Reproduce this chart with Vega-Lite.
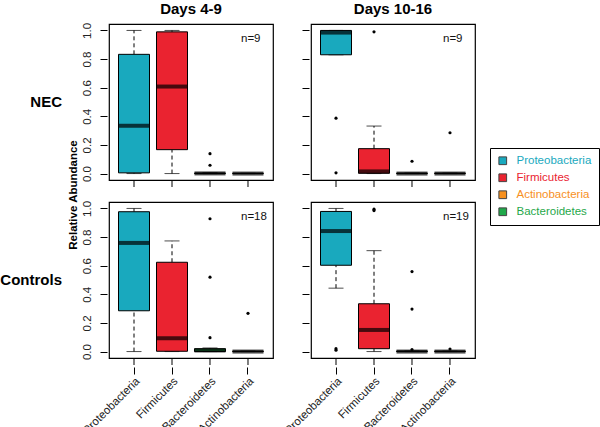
{
  "$schema": "https://vega.github.io/schema/vega-lite/v6.json",
  "background": "white",
  "padding": {"left": 0, "top": 2, "right": 2, "bottom": 0},
  "config": {
    "font": "Liberation Sans",
    "view": {"stroke": "black", "strokeWidth": 1.2},
    "axis": {"grid": false, "domain": false, "tickColor": "black", "tickSize": 7, "labelColor": "#222", "labelFont": "Liberation Sans"},
    "axisY": {"tickCount": 6, "labelOverlap": false, "labelAngle": -90, "labelPadding": 8, "labelFontSize": 11.5, "format": ".1f", "offset": 1},
    "concat": {"spacing": 8}
  },
  "datasets": {"all": [
    {"group": "NEC", "days": "Days 4-9", "taxon": "Proteobacteria", "lo": 0, "q1": 0.005, "med": 0.334, "q3": 0.833, "hi": 1.0},
    {"group": "NEC", "days": "Days 4-9", "taxon": "Firmicutes", "lo": 0, "q1": 0.167, "med": 0.608, "q3": 0.99, "hi": 1.0},
    {"group": "NEC", "days": "Days 4-9", "taxon": "Bacteroidetes", "lo": 0, "q1": 0, "med": 0.001, "q3": 0.004, "hi": 0.005},
    {"group": "NEC", "days": "Days 4-9", "taxon": "Actinobacteria", "lo": 0, "q1": 0, "med": 0, "q3": 0.002, "hi": 0.002},
    {"group": "NEC", "days": "Days 4-9", "taxon": "Bacteroidetes", "out": 0.139},
    {"group": "NEC", "days": "Days 4-9", "taxon": "Bacteroidetes", "out": 0.058},
    {"group": "NEC", "days": "Days 10-16", "taxon": "Proteobacteria", "lo": 0.83, "q1": 0.83, "med": 0.985, "q3": 1.0, "hi": 1.0},
    {"group": "NEC", "days": "Days 10-16", "taxon": "Firmicutes", "lo": 0, "q1": 0.002, "med": 0.015, "q3": 0.174, "hi": 0.332},
    {"group": "NEC", "days": "Days 10-16", "taxon": "Bacteroidetes", "lo": 0, "q1": 0, "med": 0, "q3": 0.003, "hi": 0.003},
    {"group": "NEC", "days": "Days 10-16", "taxon": "Actinobacteria", "lo": 0, "q1": 0, "med": 0, "q3": 0.003, "hi": 0.003},
    {"group": "NEC", "days": "Days 10-16", "taxon": "Proteobacteria", "out": 0.387},
    {"group": "NEC", "days": "Days 10-16", "taxon": "Proteobacteria", "out": 0.005},
    {"group": "NEC", "days": "Days 10-16", "taxon": "Firmicutes", "out": 0.99},
    {"group": "NEC", "days": "Days 10-16", "taxon": "Bacteroidetes", "out": 0.086},
    {"group": "NEC", "days": "Days 10-16", "taxon": "Actinobacteria", "out": 0.285},
    {"group": "Controls", "days": "Days 4-9", "taxon": "Proteobacteria", "lo": 0, "q1": 0.285, "med": 0.759, "q3": 0.977, "hi": 1.0},
    {"group": "Controls", "days": "Days 4-9", "taxon": "Firmicutes", "lo": 0, "q1": 0.002, "med": 0.093, "q3": 0.624, "hi": 0.773},
    {"group": "Controls", "days": "Days 4-9", "taxon": "Bacteroidetes", "lo": 0, "q1": 0, "med": 0.008, "q3": 0.02, "hi": 0.025},
    {"group": "Controls", "days": "Days 4-9", "taxon": "Actinobacteria", "lo": 0, "q1": 0, "med": 0, "q3": 0.003, "hi": 0.003},
    {"group": "Controls", "days": "Days 4-9", "taxon": "Bacteroidetes", "out": 0.928},
    {"group": "Controls", "days": "Days 4-9", "taxon": "Bacteroidetes", "out": 0.52},
    {"group": "Controls", "days": "Days 4-9", "taxon": "Bacteroidetes", "out": 0.097},
    {"group": "Controls", "days": "Days 4-9", "taxon": "Actinobacteria", "out": 0.267},
    {"group": "Controls", "days": "Days 10-16", "taxon": "Proteobacteria", "lo": 0.443, "q1": 0.603, "med": 0.842, "q3": 0.979, "hi": 1.0},
    {"group": "Controls", "days": "Days 10-16", "taxon": "Firmicutes", "lo": 0, "q1": 0.02, "med": 0.151, "q3": 0.334, "hi": 0.705},
    {"group": "Controls", "days": "Days 10-16", "taxon": "Bacteroidetes", "lo": 0, "q1": 0, "med": 0, "q3": 0.004, "hi": 0.004},
    {"group": "Controls", "days": "Days 10-16", "taxon": "Actinobacteria", "lo": 0, "q1": 0, "med": 0, "q3": 0.003, "hi": 0.003},
    {"group": "Controls", "days": "Days 10-16", "taxon": "Proteobacteria", "out": 0.02},
    {"group": "Controls", "days": "Days 10-16", "taxon": "Proteobacteria", "out": 0.01},
    {"group": "Controls", "days": "Days 10-16", "taxon": "Firmicutes", "out": 0.995},
    {"group": "Controls", "days": "Days 10-16", "taxon": "Firmicutes", "out": 0.985},
    {"group": "Controls", "days": "Days 10-16", "taxon": "Bacteroidetes", "out": 0.559},
    {"group": "Controls", "days": "Days 10-16", "taxon": "Bacteroidetes", "out": 0.297},
    {"group": "Controls", "days": "Days 10-16", "taxon": "Bacteroidetes", "out": 0.014},
    {"group": "Controls", "days": "Days 10-16", "taxon": "Actinobacteria", "out": 0.018},
    {"group": "NEC", "days": "Days 4-9", "n": "n=9"},
    {"group": "NEC", "days": "Days 10-16", "n": "n=9"},
    {"group": "Controls", "days": "Days 4-9", "n": "n=18"},
    {"group": "Controls", "days": "Days 10-16", "n": "n=19"}
  ]},
  "hconcat": [
    {
      "data": {"name": "all"},
      "transform": [{"filter": "datum.days == 'Days 4-9'"}],
      "facet": {
        "row": {"field": "group", "type": "nominal", "sort": ["NEC", "Controls"], "title": "Relative Abundance",
          "header": {"labelAngle": 0, "labelOrient": "left", "labelAlign": "left", "labelFontWeight": "bold", "labelFontSize": 15, "labelColor": "black", "labelPadding": 19,
            "titleOrient": "left", "titleFontWeight": "bold", "titleFontSize": 11.5, "titleColor": "black", "titlePadding": -89, "titleFont": "Liberation Sans"}},
        "column": {"field": "days", "type": "nominal", "title": null,
          "header": {"labelFontWeight": "bold", "labelFontSize": 15, "labelColor": "black", "labelPadding": 6}}
      },
      "spacing": {"row": 12},
      "spec": {
        "width": 164,
        "height": 156,
        "encoding": {
          "x": {"field": "taxon", "type": "nominal",
            "scale": {"domain": ["Proteobacteria", "Firmicutes", "Bacteroidetes", "Actinobacteria"], "paddingInner": 0, "paddingOuter": 0.158},
            "axis": {"title": null, "labelAngle": -45, "labelFontSize": 11.5, "labelPadding": 1, "tickSize": 7}}
        },
        "layer": [
          {"transform": [{"filter": "isValid(datum.med)"}],
           "mark": {"type": "rule", "color": "black", "strokeWidth": 1, "yOffset": 1, "y2Offset": 7},
           "encoding": {"y": {"datum": -0.045, "type": "quantitative",
              "scale": {"domain": [-0.045, 1.045], "nice": false, "zero": false},
              "axis": {"title": null, "values": [0, 0.2, 0.4, 0.6, 0.8, 1.0], "format": ".1f"}},
             "y2": {"datum": -0.045}}},
          {"transform": [{"filter": "isValid(datum.med)"}],
           "mark": {"type": "rule", "color": "black", "strokeDash": [4, 3], "strokeWidth": 1},
           "encoding": {"y": {"field": "q3", "type": "quantitative"}, "y2": {"field": "hi"}}},
          {"transform": [{"filter": "isValid(datum.med)"}],
           "mark": {"type": "rule", "color": "black", "strokeDash": [4, 3], "strokeWidth": 1},
           "encoding": {"y": {"field": "lo", "type": "quantitative"}, "y2": {"field": "q1"}}},
          {"transform": [{"filter": "isValid(datum.med)"}],
           "mark": {"type": "tick", "color": "black", "size": 15, "thickness": 1, "orient": "horizontal"},
           "encoding": {"y": {"field": "hi", "type": "quantitative"}}},
          {"transform": [{"filter": "isValid(datum.med)"}],
           "mark": {"type": "tick", "color": "black", "size": 15, "thickness": 1, "orient": "horizontal"},
           "encoding": {"y": {"field": "lo", "type": "quantitative"}}},
          {"transform": [{"filter": "isValid(datum.med)"}],
           "mark": {"type": "bar", "width": 31, "stroke": "black", "strokeWidth": 1, "opacity": 1},
           "encoding": {"y": {"field": "q1", "type": "quantitative"}, "y2": {"field": "q3"},
             "color": {"field": "taxon", "type": "nominal",
               "scale": {"domain": ["Proteobacteria", "Firmicutes", "Actinobacteria", "Bacteroidetes"], "range": ["#19a9be", "#ea2330", "#f7901e", "#1fa84a"]},
               "legend": {"title": null, "orient": "none", "legendX": 381, "legendY": 124,
                 "strokeColor": "black", "padding": 7, "symbolType": "square", "symbolSize": 60,
                 "symbolStrokeColor": "#444", "symbolStrokeWidth": 1, "labelFontSize": 11.5,
                 "rowPadding": 4, "labelOffset": 8, "labelFont": "Liberation Sans",
                 "labelColor": {"expr": "scale('color', datum.value)"}}}}},
          {"transform": [{"filter": "isValid(datum.med)"}],
           "mark": {"type": "tick", "color": "black", "size": 31, "thickness": 4, "orient": "horizontal"},
           "encoding": {"y": {"field": "med", "type": "quantitative"}}},
          {"transform": [{"filter": "isValid(datum.out)"}],
           "mark": {"type": "point", "filled": true, "color": "black", "size": 10, "opacity": 1},
           "encoding": {"y": {"field": "out", "type": "quantitative"}}},
          {"transform": [{"filter": "isValid(datum.n)"}],
           "mark": {"type": "text", "align": "left", "dx": -7, "fontSize": 11.5, "color": "#111", "baseline": "middle"},
           "encoding": {"x": {"datum": "Actinobacteria", "type": "nominal"}, "y": {"datum": 0.94, "type": "quantitative"}, "text": {"field": "n"}}}
        ]
      }
    },
    {
      "data": {"name": "all"},
      "transform": [{"filter": "datum.days == 'Days 10-16'"}],
      "facet": {
        "row": {"field": "group", "type": "nominal", "sort": ["NEC", "Controls"], "title": null, "header": {"labels": false}},
        "column": {"field": "days", "type": "nominal", "title": null,
          "header": {"labelFontWeight": "bold", "labelFontSize": 15, "labelColor": "black", "labelPadding": 6}}
      },
      "spacing": {"row": 12},
      "spec": {
        "width": 164,
        "height": 156,
        "encoding": {
          "x": {"field": "taxon", "type": "nominal",
            "scale": {"domain": ["Proteobacteria", "Firmicutes", "Bacteroidetes", "Actinobacteria"], "paddingInner": 0, "paddingOuter": 0.158},
            "axis": {"title": null, "labelAngle": -45, "labelFontSize": 11.5, "labelPadding": 1, "tickSize": 7}}
        },
        "layer": [
          {"transform": [{"filter": "isValid(datum.med)"}],
           "mark": {"type": "rule", "color": "black", "strokeWidth": 1, "yOffset": 1, "y2Offset": 7},
           "encoding": {"y": {"datum": -0.045, "type": "quantitative",
              "scale": {"domain": [-0.045, 1.045], "nice": false, "zero": false},
              "axis": {"title": null, "labels": false, "values": [0, 0.2, 0.4, 0.6, 0.8, 1.0]}},
             "y2": {"datum": -0.045}}},
          {"transform": [{"filter": "isValid(datum.med)"}],
           "mark": {"type": "rule", "color": "black", "strokeDash": [4, 3], "strokeWidth": 1},
           "encoding": {"y": {"field": "q3", "type": "quantitative"}, "y2": {"field": "hi"}}},
          {"transform": [{"filter": "isValid(datum.med)"}],
           "mark": {"type": "rule", "color": "black", "strokeDash": [4, 3], "strokeWidth": 1},
           "encoding": {"y": {"field": "lo", "type": "quantitative"}, "y2": {"field": "q1"}}},
          {"transform": [{"filter": "isValid(datum.med)"}],
           "mark": {"type": "tick", "color": "black", "size": 15, "thickness": 1, "orient": "horizontal"},
           "encoding": {"y": {"field": "hi", "type": "quantitative"}}},
          {"transform": [{"filter": "isValid(datum.med)"}],
           "mark": {"type": "tick", "color": "black", "size": 15, "thickness": 1, "orient": "horizontal"},
           "encoding": {"y": {"field": "lo", "type": "quantitative"}}},
          {"transform": [{"filter": "isValid(datum.med)"}],
           "mark": {"type": "bar", "width": 31, "stroke": "black", "strokeWidth": 1, "opacity": 1},
           "encoding": {"y": {"field": "q1", "type": "quantitative"}, "y2": {"field": "q3"},
             "color": {"field": "taxon", "type": "nominal"}}},
          {"transform": [{"filter": "isValid(datum.med)"}],
           "mark": {"type": "tick", "color": "black", "size": 31, "thickness": 4, "orient": "horizontal"},
           "encoding": {"y": {"field": "med", "type": "quantitative"}}},
          {"transform": [{"filter": "isValid(datum.out)"}],
           "mark": {"type": "point", "filled": true, "color": "black", "size": 10, "opacity": 1},
           "encoding": {"y": {"field": "out", "type": "quantitative"}}},
          {"transform": [{"filter": "isValid(datum.n)"}],
           "mark": {"type": "text", "align": "left", "dx": -7, "fontSize": 11.5, "color": "#111", "baseline": "middle"},
           "encoding": {"x": {"datum": "Actinobacteria", "type": "nominal"}, "y": {"datum": 0.94, "type": "quantitative"}, "text": {"field": "n"}}}
        ]
      }
    }
  ],
  "resolve": {"scale": {"color": "shared"}}
}
